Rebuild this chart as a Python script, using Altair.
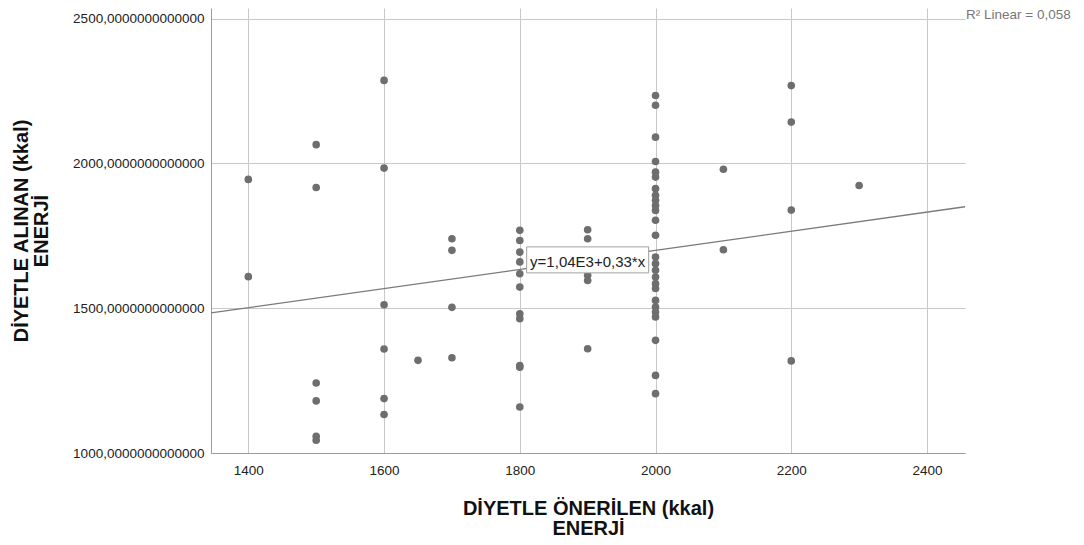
import altair as alt
import pandas as pd

# ---- data ----
x_ticks = [1400, 1600, 1800, 2000, 2200, 2400]
y_ticks = [1000, 1500, 2000, 2500]

onerilen_1400 = [1945, 1609]
onerilen_1500 = [2065, 1917, 1242, 1180, 1058, 1044]
onerilen_1600 = [2287, 1984, 1512, 1359, 1188, 1133]
onerilen_1650 = [1320]
onerilen_1700 = [1740, 1700, 1503, 1329]
onerilen_1800 = [1769, 1734, 1694, 1660, 1619, 1573, 1481, 1464, 1302, 1296, 1159]
onerilen_1900 = [1771, 1740, 1614, 1596, 1360]
onerilen_2000 = [2235, 2201, 2091, 2007, 1970, 1953, 1913, 1890, 1873, 1855, 1838,
                 1804, 1752, 1677, 1654, 1631, 1608, 1585, 1568, 1527, 1504, 1487,
                 1470, 1389, 1268, 1205]
onerilen_2100 = [1980, 1702]
onerilen_2200 = [2269, 2143, 1839, 1318]
onerilen_2300 = [1924]

groups = {
    1400: onerilen_1400, 1500: onerilen_1500, 1600: onerilen_1600,
    1650: onerilen_1650, 1700: onerilen_1700, 1800: onerilen_1800,
    1900: onerilen_1900, 2000: onerilen_2000, 2100: onerilen_2100,
    2200: onerilen_2200, 2300: onerilen_2300,
}

intercept = 1040.0
slope = 0.33
r2_label = "R² Linear = 0,058"
eq_label = "y=1,04E3+0,33*x"
eq_at_x = 1900

x_domain = [1345, 2456]
y_domain = [1000, 2537]

rows = [{"oneri": k, "alinan": v} for k, vals in groups.items() for v in vals]
df = pd.DataFrame(rows)

line_df = pd.DataFrame({"oneri": x_domain,
                        "alinan": [intercept + slope * v for v in x_domain]})
eq_df = pd.DataFrame({"oneri": [eq_at_x], "alinan": [intercept + slope * eq_at_x],
                      "label": [eq_label]})
r2_df = pd.DataFrame({"oneri": [x_domain[1]], "alinan": [y_ticks[-1]], "label": [r2_label]})

FONT = "Liberation Sans"
x_scale = alt.Scale(domain=x_domain, nice=False, zero=False)
y_scale = alt.Scale(domain=y_domain, nice=False, zero=False)

x_enc = alt.X("oneri:Q", scale=x_scale, axis=alt.Axis(
    values=x_ticks, format="d",
    title=["DİYETLE ÖNERİLEN (kkal)", "ENERJİ"],
    titleY=61, titleBaseline="alphabetic",
    labelPadding=10))
y_enc = alt.Y("alinan:Q", scale=y_scale, axis=alt.Axis(
    values=y_ticks,
    labelExpr="format(datum.value, 'd') + ',0000000000000'",
    title=["DİYETLE ALINAN (kkal)", "ENERJİ"],
    titleAngle=270, titleX=-183.5, titleY=222.5, titleBaseline="alphabetic",
    titleAlign="center",
    labelPadding=7))

points = alt.Chart(df).mark_circle(size=58, color="#6e6e6e", opacity=1).encode(
    x=x_enc, y=y_enc)

fit = alt.Chart(line_df).mark_line(color="#7a7a7a", strokeWidth=1.3).encode(
    x=alt.X("oneri:Q", scale=x_scale), y=alt.Y("alinan:Q", scale=y_scale))

box = alt.Chart(eq_df).mark_rect(width=122, height=26, fill="white",
                                 stroke="#a0a0a0", strokeWidth=1).encode(
    x=alt.X("oneri:Q", scale=x_scale), y=alt.Y("alinan:Q", scale=y_scale))

eq_text = alt.Chart(eq_df).mark_text(font=FONT, fontSize=15, color="#222222",
                                     align="center", baseline="middle", dy=2).encode(
    x=alt.X("oneri:Q", scale=x_scale), y=alt.Y("alinan:Q", scale=y_scale),
    text="label:N")

r2_text = alt.Chart(r2_df).mark_text(font=FONT, fontSize=13.5, color="#777777",
                                     align="left", baseline="alphabetic", dx=1).encode(
    x=alt.X("oneri:Q", scale=x_scale), y=alt.Y("alinan:Q", scale=y_scale),
    text="label:N")

chart = alt.layer(fit, points, box, eq_text, r2_text).properties(
    width=754, height=445,
    autosize=alt.AutoSizeParams(type="none"),
    padding={"left": 203, "top": 0, "right": 111, "bottom": 84},
).configure_view(stroke=None).configure_axis(
    domain=True, domainColor="#9a9a9a", domainWidth=1,
    ticks=False, grid=True, gridColor="#c8c8c8", gridWidth=1,
    labelFont=FONT, labelFontSize=13.5, labelColor="#222222",
    titleFont=FONT, titleFontSize=20, titleFontWeight="bold", titleColor="#111111",
    titleLineHeight=20,
)

chart.save("out.html", embed_options={"renderer": "svg", "actions": False})
